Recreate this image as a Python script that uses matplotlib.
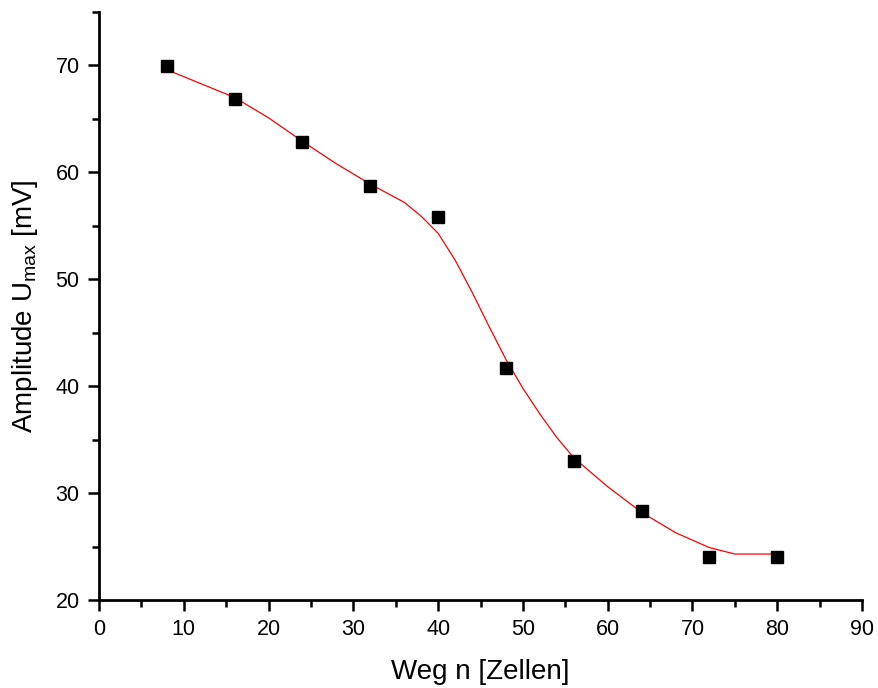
import matplotlib
matplotlib.use("Agg")
import matplotlib.pyplot as plt
from matplotlib.ticker import MultipleLocator

plt.rcParams['font.family'] = ['Liberation Sans', 'DejaVu Sans']
plt.rcParams['mathtext.fontset'] = 'custom'
plt.rcParams['mathtext.rm'] = 'Liberation Sans'

# measured points
weg = [8, 16, 24, 32, 40, 48, 56, 64, 72, 80]
amplitude = [69.9, 66.9, 62.8, 58.7, 55.8, 41.7, 33.0, 28.3, 24.0, 24.0]

# fit curve
fit_x = [8, 12, 16, 20, 24, 28, 32, 36, 38, 40, 42, 44, 46, 48, 50, 52, 54,
         56, 60, 64, 68, 72, 74, 75, 80]
fit_y = [69.6, 68.3, 67.0, 65.1, 62.9, 60.8, 58.9, 57.2, 55.9, 54.3, 51.8,
         48.8, 45.6, 42.5, 39.8, 37.4, 35.2, 33.3, 30.6, 28.2, 26.3, 24.9,
         24.5, 24.3, 24.3]

fig = plt.figure(figsize=(8.79, 6.88), dpi=100)
ax = fig.add_axes([0.1126, 0.1279, 0.9807 - 0.1126, 0.8547])

ax.plot(fit_x, fit_y, color='red', lw=0.9, zorder=2)
ax.plot(weg, amplitude, 's', color='black', ms=8, zorder=3)

ax.set_xlim(0, 90)
ax.set_ylim(20, 75)
ax.xaxis.set_major_locator(MultipleLocator(10))
ax.xaxis.set_minor_locator(MultipleLocator(5))
ax.yaxis.set_major_locator(MultipleLocator(10))
ax.yaxis.set_minor_locator(MultipleLocator(5))

for s in ['top', 'right']:
    ax.spines[s].set_visible(False)
for s in ['left', 'bottom']:
    ax.spines[s].set_linewidth(2)

ax.tick_params(which='major', direction='out', length=8, width=1.8,
               labelsize=15.5, pad=6)
ax.tick_params(which='minor', direction='out', length=5, width=1.8)

ax.set_xlabel('Weg n [Zellen]', fontsize=20, labelpad=13)
ax.set_ylabel(r'Amplitude U$_{\mathrm{max}}$ [mV]', fontsize=20, labelpad=11)

fig.savefig('out.png', dpi=100)
